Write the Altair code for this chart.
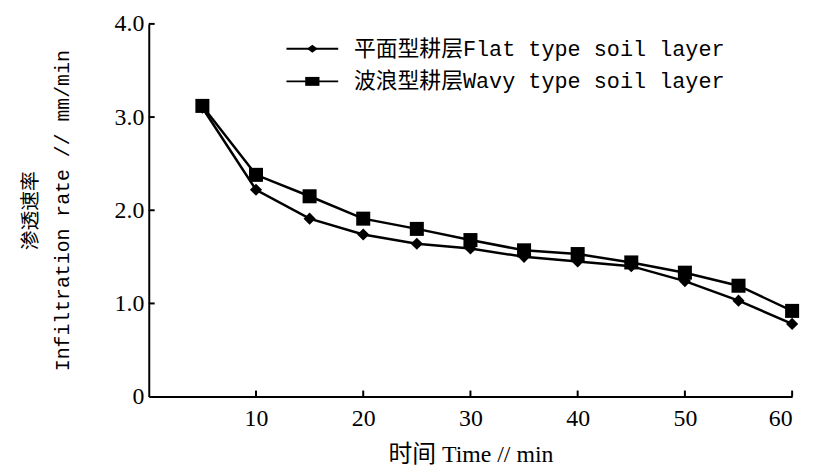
import altair as alt
import pandas as pd

time_min = [5, 10, 15, 20, 25, 30, 35, 40, 45, 50, 55, 60]
flat_rate = [3.10, 2.22, 1.91, 1.74, 1.64, 1.59, 1.50, 1.45, 1.40, 1.24, 1.03, 0.78]
wavy_rate = [3.12, 2.38, 2.15, 1.91, 1.80, 1.68, 1.57, 1.53, 1.44, 1.33, 1.19, 0.92]
series_names = ["平面型耕层Flat type soil layer", "波浪型耕层Wavy type soil layer"]
x_ticks = [10, 20, 30, 40, 50, 60]
y_ticks = [0, 1, 2, 3, 4]

rows = []
for t, f, w in zip(time_min, flat_rate, wavy_rate):
    rows.append({"time": t, "rate": f, "series": series_names[0]})
    rows.append({"time": t, "rate": w, "series": series_names[1]})
df = pd.DataFrame(rows)

MONO = "Liberation Mono, Noto Sans CJK SC"
SERIF = "Liberation Serif, Noto Sans CJK SC"

x_enc = alt.X("time:Q", scale=alt.Scale(domain=[0, 60], nice=False),
              axis=alt.Axis(values=x_ticks, ticks=False, grid=False, domainColor="black",
                            domainWidth=2, labelFont=SERIF, labelFontSize=24, labelColor="black",
                            labelPadding=10, title="时间 Time // min", titleFont=SERIF,
                            titleFontSize=24, titleFontWeight="normal", titleColor="black",
                            titlePadding=12))
y_enc = alt.Y("rate:Q", scale=alt.Scale(domain=[0, 4], nice=False),
              axis=alt.Axis(values=y_ticks, ticks=False, grid=False, domainColor="black",
                            domainWidth=2, labelFont=SERIF, labelFontSize=24, labelColor="black",
                            labelPadding=5,
                            labelExpr="datum.value == 0 ? '0' : format(datum.value, '.1f')",
                            title=["渗透速率", "Infiltration rate // mm/min"], titleFont=MONO,
                            titleFontSize=20, titleFontWeight="normal", titleColor="black",
                            titleLineHeight=32, titlePadding=42))

base = alt.Chart(df)
lines = base.mark_line(color="black", strokeWidth=2.5).encode(x=x_enc, y=y_enc, detail="series:N")
points = base.mark_point(filled=True, color="black", opacity=1).encode(
    x="time:Q", y="rate:Q",
    shape=alt.Shape("series:N", scale=alt.Scale(domain=series_names, range=["diamond", "square"]), legend=None),
    size=alt.Size("series:N", scale=alt.Scale(domain=series_names, range=[150, 200]), legend=None),
)

line_path = "M-2.9,0H2.9"
diamond_path = "M-0.6,0L0,-0.45L0.6,0L0,0.45Z"
square_path = "M-0.8,-0.5H0.8V0.5H-0.8Z"

common_legend = dict(title=None, orient="none", legendX=154, legendY=14,
                     symbolSize=324, symbolOffset=0, labelOffset=31, rowPadding=11,
                     labelFont=MONO, labelFontSize=22, labelLimit=600)

legend_lines = base.mark_point(filled=False, color="black", strokeWidth=2, opacity=1).encode(
    x="time:Q", y="rate:Q",
    shape=alt.Shape("series:N", scale=alt.Scale(domain=series_names, range=[line_path, line_path]),
                    legend=alt.Legend(labelColor="black", symbolStrokeWidth=2, **common_legend)),
).transform_filter("false")

legend_marks = alt.Chart(df).mark_point(filled=True, color="black", opacity=1).encode(
    x="time:Q", y="rate:Q",
    fill=alt.Fill("series:N", scale=alt.Scale(domain=series_names, range=["black", "black"]),
                  legend=alt.Legend(labelOpacity=0, labelColor="black", symbolType=diamond_path,
                                    **common_legend)),
).transform_filter("false")

legend_marks2 = alt.Chart(df).mark_point(filled=True, color="black", opacity=1).encode(
    x="time:Q", y="rate:Q",
    stroke=alt.Stroke("series:N", scale=alt.Scale(domain=series_names, range=["black", "black"]),
                      legend=None),
).transform_filter("false")

xt = pd.DataFrame({"t": x_ticks})
yt = pd.DataFrame({"v": y_ticks[1:]})
x_tick_marks = alt.Chart(xt).mark_rule(color="black", strokeWidth=2).encode(
    x="t:Q", y=alt.datum(0), y2=alt.datum(0.065))
y_tick_marks = alt.Chart(yt).mark_rule(color="black", strokeWidth=2).encode(
    y="v:Q", x=alt.datum(0), x2=alt.datum(0.55))

# marker legend (second shape legend, filled)
legend_shapes = alt.Chart(df).mark_point(filled=True, color="black", opacity=1).encode(
    x="time:Q", y="rate:Q",
    shape=alt.Shape("series:N", scale=alt.Scale(domain=series_names, range=[diamond_path, square_path]),
                    legend=alt.Legend(labelOpacity=0, labelColor="black", **common_legend)),
).transform_filter("false")

chart = alt.layer(lines, points, legend_lines, legend_shapes, x_tick_marks, y_tick_marks).resolve_scale(
    shape="independent", size="independent"
).resolve_legend(shape="independent").properties(
    width=649, height=376,
    autosize=alt.AutoSizeParams(type="none"),
    padding={"left": 142, "top": 14, "right": 14, "bottom": 72},
    background="white",
).configure_view(stroke=None)

chart.save("out.html", embed_options={"renderer": "svg", "actions": False})
